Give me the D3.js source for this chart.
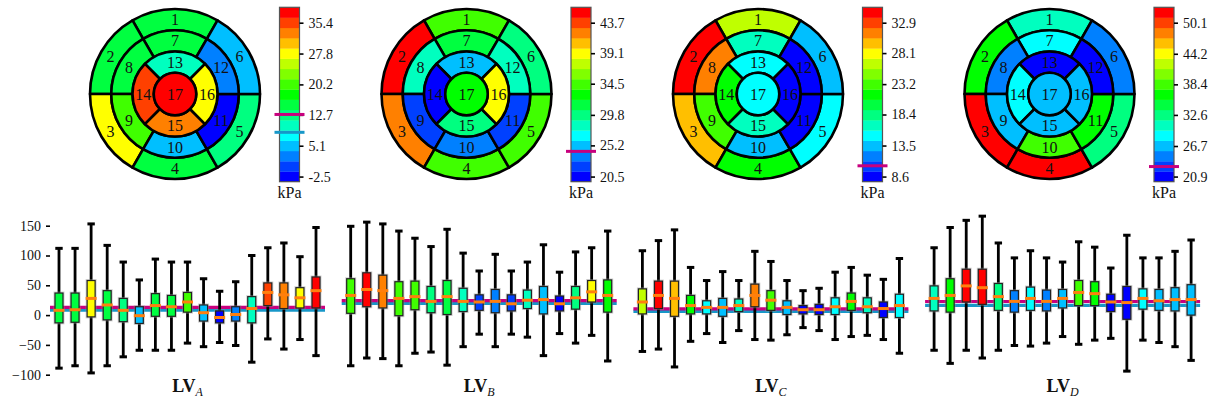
<!DOCTYPE html>
<html>
<head>
<meta charset="utf-8">
<script src="https://cdn.jsdelivr.net/npm/d3@7"></script>
<style>
  body { margin: 0; background: #fff; }
  svg text { font-family: "Liberation Serif", "DejaVu Serif", serif; fill: #111; }
</style>
</head>
<body>
<svg id="chart" width="1215" height="408"></svg>
<script>
// AHA segments 1..17
const segments = d3.range(1, 18);
const panels = ["A", "B", "C", "D"];

// colorbar tick labels (kPa)
const ticksA = [-2.5, 5.1, 12.7, 20.2, 27.8, 35.4];
const ticksB = [20.5, 25.2, 29.8, 34.5, 39.1, 43.7];
const ticksC = [8.6, 13.5, 18.4, 23.2, 28.1, 32.9];
const ticksD = [20.9, 26.7, 32.6, 38.4, 44.2, 50.1];

// segment values (kPa), segment 1..17
const segA = [15.2, 14.8, 27.6, 15.9, 12.4, 4.8, 15.6, 14.6, 20.5, 5.5, -2.5, 2.9, 10.3, 35.4, 32.6, 28.1, 38.2];
const segB = [34.6, 45.1, 42.0, 34.2, 34.5, 29.9, 31.4, 28.0, 22.1, 23.4, 21.8, 28.4, 25.3, 20.6, 29.6, 39.0, 32.8];
const segC = [26.5, 34.3, 29.6, 21.4, 15.2, 13.6, 16.8, 31.6, 23.3, 13.3, 8.7, 8.5, 15.3, 21.7, 16.5, 8.8, 14.9];
const segD = [30.7, 36.3, 52.4, 51.8, 32.4, 24.9, 28.5, 24.6, 26.9, 38.6, 36.6, 21.1, 20.7, 28.8, 26.5, 26.9, 26.6];

// reference levels
const magentaRef = [12.8, 24.3, 10.3, 22.8];
const blueRef = [8.4, 19.5, 6.2, 16.3];

// box stats per segment: [low whisker, q1, median, q3, high whisker]
const boxA = [
  [-89, -13, 8, 37, 112], [-85, -12, 9, 37, 112], [-97, -3, 28, 58, 153], [-85, -8, 17, 41, 117],
  [-70, -11, 8, 28, 89], [-59, -14, -1, 14, 59], [-59, -2, 16, 36, 94], [-59, -2, 14, 33, 89],
  [-47, 5, 22, 38, 89], [-53, -10, 4, 17, 61], [-46, -13, -4, 7, 40], [-51, -10, 1, 14, 56],
  [-79, -13, 11, 31, 100], [-40, 16, 38, 54, 113], [-57, 11, 34, 54, 121], [-41, 12, 29, 46, 98],
  [-68, 12, 41, 64, 147]
];
const boxB = [
  [-85, 3, 33, 61, 149], [-72, 14, 43, 71, 156], [-73, 12, 41, 67, 153], [-85, -1, 28, 56, 141],
  [-64, 9, 31, 57, 129], [-62, 4, 23, 48, 115], [-84, 1, 31, 58, 144], [-53, 6, 23, 45, 104],
  [-32, 8, 22, 34, 74], [-53, 4, 23, 43, 102], [-32, 7, 19, 34, 74], [-37, 11, 25, 42, 89],
  [-68, 2, 26, 48, 118], [-31, 7, 19, 32, 72], [-47, 10, 29, 48, 106], [-34, 22, 39, 58, 113],
  [-77, 5, 33, 59, 141]
];
const boxC = [
  [-61, 2, 22, 44, 108], [-57, 11, 33, 57, 125], [-87, -2, 28, 57, 143], [-44, 2, 16, 33, 80],
  [-31, 2, 13, 24, 58], [-46, -2, 13, 28, 73], [-26, 6, 16, 27, 58], [-41, 14, 33, 52, 107],
  [-42, 8, 25, 41, 90], [-33, 1, 13, 24, 58], [-21, 2, 9, 16, 41], [-26, 1, 9, 18, 45],
  [-41, 1, 14, 29, 72], [-36, 8, 23, 37, 80], [-34, 4, 14, 29, 67], [-41, -4, 11, 22, 60],
  [-64, -4, 16, 35, 95]
];
const boxD = [
  [-59, 7, 28, 49, 113], [-81, 5, 33, 61, 147], [-59, 22, 49, 77, 159], [-72, 18, 46, 77, 166],
  [-59, 8, 31, 53, 121], [-51, 5, 23, 41, 96], [-52, 8, 28, 47, 108], [-47, 7, 23, 42, 96],
  [-36, 12, 28, 43, 89], [-49, 16, 38, 58, 123], [-42, 16, 36, 56, 114], [-39, 6, 22, 35, 79],
  [-94, -7, 21, 48, 134], [-42, 10, 28, 44, 96], [-46, 8, 24, 43, 96], [-53, 7, 26, 46, 107],
  [-76, 0, 26, 51, 126]
];

const yTicks = [-100, -50, 0, 50, 100, 150];

const allTicks = [ticksA, ticksB, ticksC, ticksD];
const allSeg = [segA, segB, segC, segD];
const allBox = [boxA, boxB, boxC, boxD];

// 17 discrete colours, blue -> red
const palette = d3.range(17).map(i => d3.hsl(240 - 15 * i, 1, 0.5).formatHex());
const MAGENTA = "#c8007e";
const BLUE = "#1797c8";
const SERIF = '"Liberation Serif", "DejaVu Serif", serif';

const svg = d3.select("#chart");
const deg = Math.PI / 180;
const R = 85;
const ringR = [0, 0.25, 0.5, 0.75, 1].map(f => f * R);

function segGeom(s) {
  if (s <= 6) { const c = -60 * (s - 1); return { innerRadius: ringR[3], outerRadius: ringR[4], startAngle: (c - 30) * deg, endAngle: (c + 30) * deg }; }
  if (s <= 12) { const c = -60 * (s - 7); return { innerRadius: ringR[2], outerRadius: ringR[3], startAngle: (c - 30) * deg, endAngle: (c + 30) * deg }; }
  if (s <= 16) { const c = -90 * (s - 13); return { innerRadius: ringR[1], outerRadius: ringR[2], startAngle: (c - 45) * deg, endAngle: (c + 45) * deg }; }
  return { innerRadius: 0, outerRadius: ringR[1], startAngle: 0, endAngle: 2 * Math.PI };
}
const arc = d3.arc();

panels.forEach((p, pi) => {
  const ticks = allTicks[pi];
  const vals = allSeg[pi];
  const bw = (ticks[5] - ticks[0]) / 15;
  const color = d3.scaleQuantize().domain([ticks[0] - bw / 2, ticks[0] + 16.5 * bw]).range(palette);

  // ---- bullseye
  const cx = 175 + 291.5 * pi, cy = 94;
  const g = svg.append("g").attr("transform", `translate(${cx},${cy})`);
  g.selectAll("path.seg")
    .data(segments)
    .join("path")
    .attr("class", "seg")
    .attr("d", s => arc(segGeom(s)))
    .attr("fill", s => color(vals[s - 1]))
    .attr("stroke", "#000")
    .attr("stroke-width", 2.6)
    .attr("stroke-linejoin", "round");

  g.selectAll("text.lbl")
    .data(segments)
    .join("text")
    .attr("class", "lbl")
    .attr("transform", s => s === 17 ? "translate(0,0)" : `translate(${arc.centroid(segGeom(s))})`)
    .attr("text-anchor", "middle")
    .attr("dy", "0.35em")
    .style("font-size", "16px")
    .text(s => s);

  // ---- colorbar
  const cbx = cx + 104.5, cbw = 20;
  const yc = d3.scaleLinear().domain(color.domain()).range([181.7, 7.3]);
  const edges = [color.domain()[0], ...color.thresholds(), color.domain()[1]];
  const cb = svg.append("g");
  cb.selectAll("rect")
    .data(palette)
    .join("rect")
    .attr("x", cbx)
    .attr("y", (d, i) => yc(edges[i + 1]))
    .attr("width", cbw)
    .attr("height", (d, i) => yc(edges[i]) - yc(edges[i + 1]) + 0.3)
    .attr("fill", d => d);
  cb.append("rect")
    .attr("x", cbx).attr("y", yc.range()[1])
    .attr("width", cbw).attr("height", yc.range()[0] - yc.range()[1])
    .attr("fill", "none").attr("stroke", "#555").attr("stroke-width", 1.2);

  const ax = cb.append("g")
    .attr("transform", `translate(${cbx + cbw},0)`)
    .call(d3.axisRight(yc).tickValues(ticks).tickSize(4).tickPadding(5).tickFormat(d => d.toFixed(1)));
  ax.select(".domain").remove();
  ax.selectAll(".tick line").attr("stroke", "#000").attr("stroke-width", 1.6);
  ax.selectAll(".tick text").style("font-size", "14px").attr("fill", "#111")
    .style("font-family", SERIF);

  [[magentaRef[pi], MAGENTA], [blueRef[pi], BLUE]].forEach(([v, c]) => {
    if (v < yc.domain()[0] || v > yc.domain()[1]) return;
    cb.append("line")
      .attr("x1", cbx - 5).attr("x2", cbx + cbw + 5)
      .attr("y1", yc(v)).attr("y2", yc(v))
      .attr("stroke", c).attr("stroke-width", 3);
  });

  cb.append("text")
    .attr("x", cbx + cbw / 2).attr("y", 198)
    .attr("text-anchor", "middle")
    .style("font-size", "16px")
    .style("font-family", SERIF)
    .text("kPa");

  // ---- box plot
  const x0 = 50 + 291.7 * pi, pw = 275;
  const x = d3.scalePoint().domain(segments).range([x0, x0 + pw]).padding(0.56);
  const y = d3.scaleLinear().domain([-100, 150]).range([374.7, 225.7]);
  const boxes = allBox[pi];
  const bg = svg.append("g");

  [[blueRef[pi], BLUE], [magentaRef[pi], MAGENTA]].forEach(([v, c]) => {
    bg.append("line")
      .attr("x1", x0).attr("x2", x0 + pw)
      .attr("y1", y(v)).attr("y2", y(v))
      .attr("stroke", c).attr("stroke-width", 3.2);
  });

  const bx = bg.selectAll("g.box")
    .data(segments)
    .join("g")
    .attr("class", "box")
    .attr("transform", s => `translate(${x(s)},0)`);

  bx.append("line")
    .attr("y1", s => y(boxes[s - 1][0])).attr("y2", s => y(boxes[s - 1][4]))
    .attr("stroke", "#000").attr("stroke-width", 2.8);
  bx.append("line")
    .attr("x1", -3.7).attr("x2", 3.7)
    .attr("y1", s => y(boxes[s - 1][4])).attr("y2", s => y(boxes[s - 1][4]))
    .attr("stroke", "#000").attr("stroke-width", 3);
  bx.append("line")
    .attr("x1", -3.7).attr("x2", 3.7)
    .attr("y1", s => y(boxes[s - 1][0])).attr("y2", s => y(boxes[s - 1][0]))
    .attr("stroke", "#000").attr("stroke-width", 3);
  // soft halo
  bx.append("rect")
    .attr("x", -5.5).attr("width", 11)
    .attr("y", s => y(boxes[s - 1][3]) - 1.5)
    .attr("height", s => y(boxes[s - 1][1]) - y(boxes[s - 1][3]) + 3)
    .attr("fill", "#999").attr("opacity", 0.45);
  bx.append("rect")
    .attr("x", -4).attr("width", 8)
    .attr("y", s => y(boxes[s - 1][3]))
    .attr("height", s => y(boxes[s - 1][1]) - y(boxes[s - 1][3]))
    .attr("fill", s => color(vals[s - 1]))
    .attr("stroke", "#222").attr("stroke-width", 1.2);
  bx.append("line")
    .attr("x1", -5.5).attr("x2", 5.5)
    .attr("y1", s => y(boxes[s - 1][2])).attr("y2", s => y(boxes[s - 1][2]))
    .attr("stroke", "#ff7f0e").attr("stroke-width", 3);

  if (pi === 0) {
    const ya = svg.append("g")
      .attr("transform", `translate(${x0},0)`)
      .call(d3.axisLeft(y).tickValues(yTicks).tickSize(4).tickPadding(5).tickFormat(d3.format("d")));
    ya.select(".domain").remove();
    ya.selectAll(".tick line").attr("stroke", "#000").attr("stroke-width", 1.6);
    ya.selectAll(".tick text").style("font-size", "14px").attr("fill", "#111")
      .style("font-family", SERIF);
  }

  const t = svg.append("text")
    .attr("x", x0 + pw / 2).attr("y", 392)
    .attr("text-anchor", "middle")
    .style("font-size", "18px")
    .style("font-family", SERIF);
  t.append("tspan").style("font-weight", "bold").text("LV");
  t.append("tspan").attr("dy", 4).style("font-style", "italic").style("font-size", "12px").text(p);
});
</script>
</body>
</html>
